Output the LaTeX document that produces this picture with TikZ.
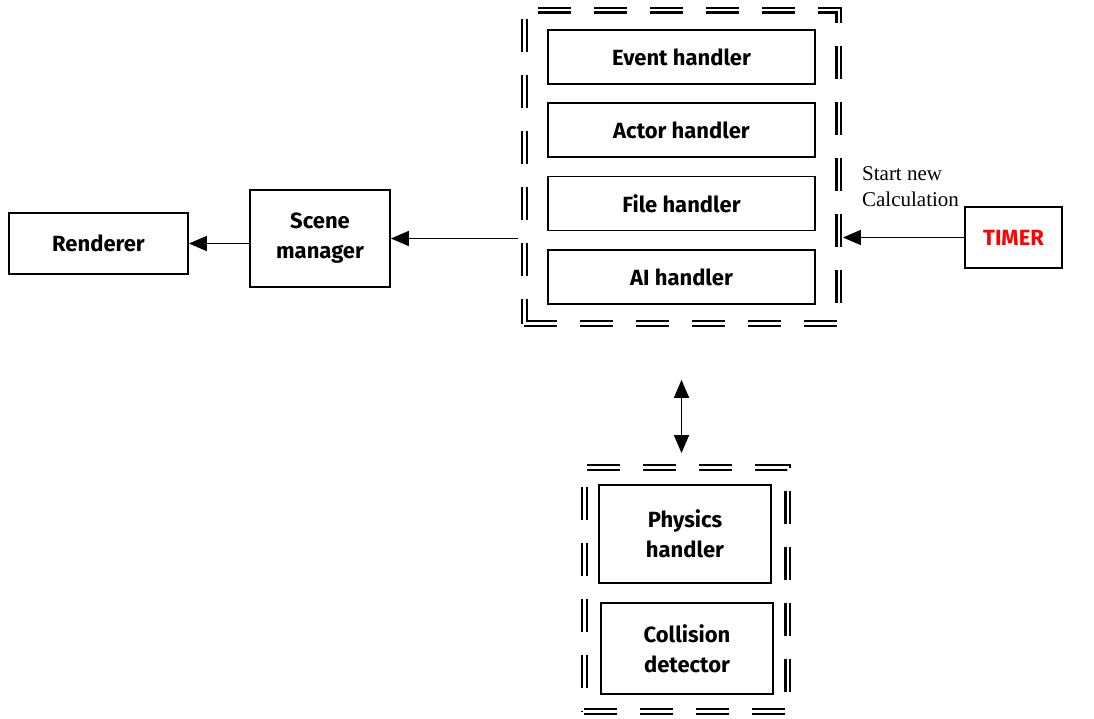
\documentclass[tikz,border=0pt]{standalone}
\usepackage{fontspec}
\setmainfont{Liberation Serif}
\newfontfamily\boxfont{Fira Sans}
\usepackage{tikz}
\usetikzlibrary{positioning}
\usetikzlibrary{fit}
\usetikzlibrary{arrows.meta}

\tikzset{
  blk/.style={draw, line width=1.8pt, inner sep=0pt, align=center,
    font=\boxfont\bfseries\fontsize{22}{30}\selectfont},
  grp/.style={draw, line width=2.1pt, double, double distance=2.8pt,
    dash pattern=on 33pt off 23pt, inner sep=0pt},
  arr/.style={line width=1.7pt, -{Triangle[length=18pt,width=15pt]}},
  dblarr/.style={line width=1.7pt, {Triangle[length=18pt,width=15pt]}-{Triangle[length=18pt,width=15pt]}},
}

\begin{document}
\begin{tikzpicture}[x=1pt, y=-1pt, node distance=17.5pt]
\useasboundingbox (0,0) rectangle (1094,719);

% core handlers
\node[blk, minimum width=267pt, minimum height=54pt] (event) at (681.5,57) {Event handler};
\node[blk, minimum width=267pt, minimum height=54pt, below=of event] (actor) {Actor handler};
\node[blk, minimum width=267pt, minimum height=54pt, below=of actor] (file) {File handler};
\node[blk, minimum width=267pt, minimum height=54pt, below=of file] (ai) {AI handler};
\node[grp, fit=(event)(actor)(file)(ai), inner xsep=23pt, inner ysep=19pt] (core) {};

% physics part
\node[blk, minimum width=172pt, minimum height=98pt] (physics) at (685,534) {Physics\\handler};
\node[blk, minimum width=172pt, minimum height=91pt, below=18pt of physics, xshift=2pt] (collision) {Collision\\detector};
\node[grp, fit=(physics)(collision), inner xsep=14pt, inner ysep=17pt] (phys) {};

% output side
\node[blk, minimum width=140pt, minimum height=97pt] (scene) at (320,238.5) {Scene\\manager};
\node[blk, minimum width=179pt, minimum height=61pt] (renderer) at (98.5,243.5) {Renderer};

% timer
\node[blk, minimum width=97pt, minimum height=61pt, text=red] (timer) at (1013.5,237.5) {TIMER};
\node[anchor=south west, align=left, inner sep=0pt, font=\fontsize{21}{26}\selectfont]
  (startlbl) at ([xshift=22pt,yshift=-1pt]core.east |- timer.north) {Start new\\Calculation};

\draw[arr] (timer.west) -- ([xshift=3pt]core.east |- timer.west);
\draw[arr] ([xshift=-5pt]core.west |- scene.east) -- (scene.east);
\draw[arr] (scene.west |- renderer.east) -- (renderer.east);
\draw[dblarr] ([yshift=-55pt]core.south) -- ([yshift=13pt]core.south |- phys.north);
\end{tikzpicture}
\end{document}
